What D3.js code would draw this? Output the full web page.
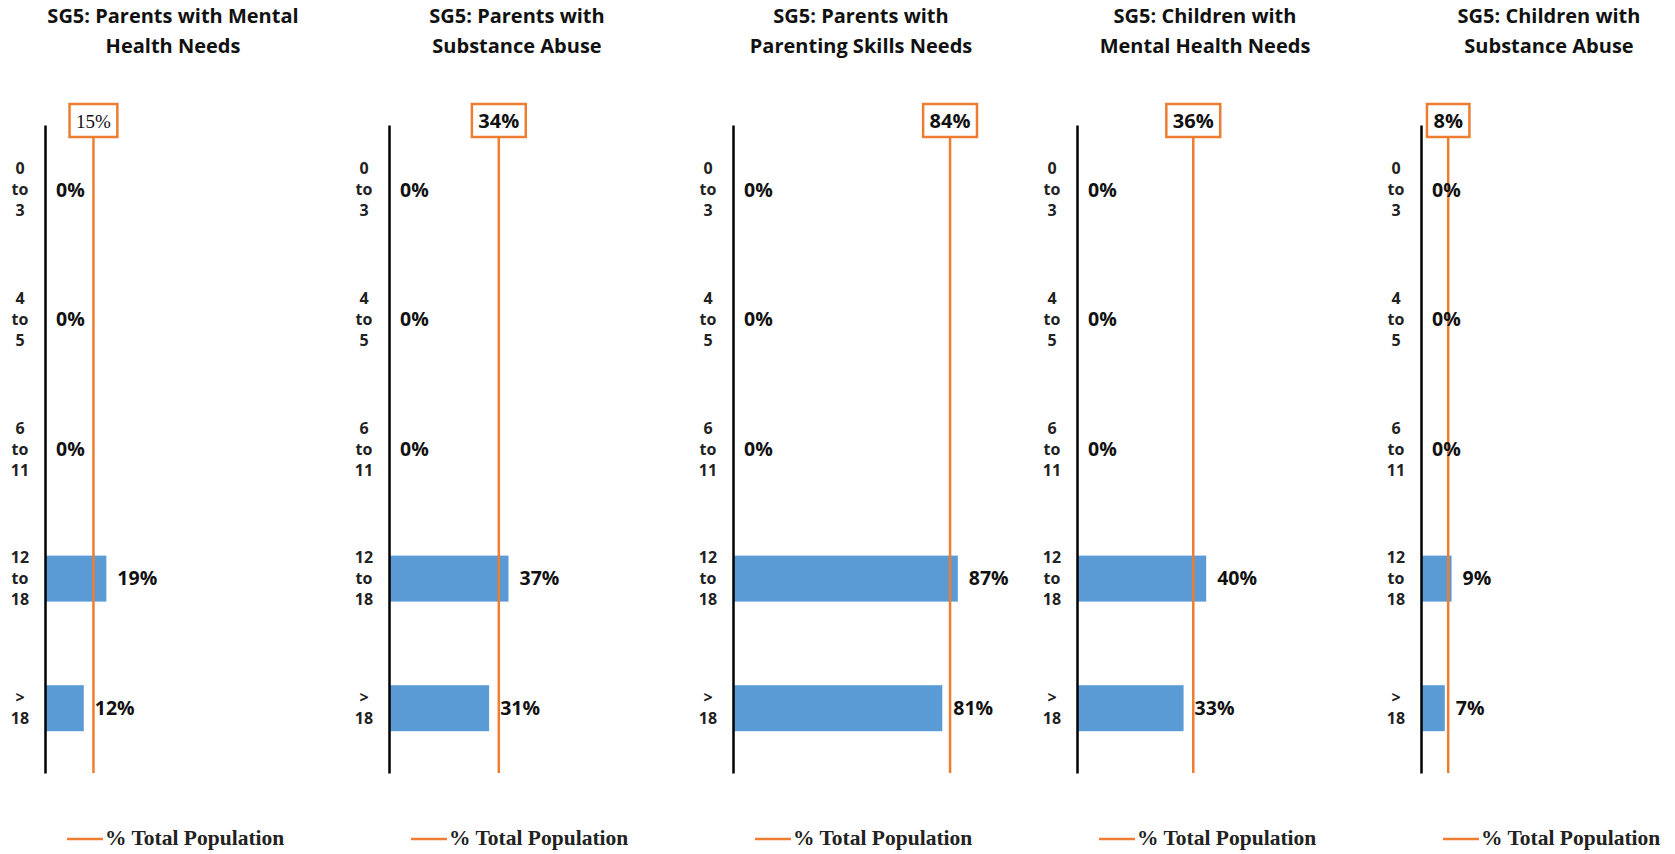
<!DOCTYPE html>
<html>
<head>
<meta charset="utf-8">
<script src="https://cdn.jsdelivr.net/npm/d3@7"></script>
<style>
  body { margin: 0; background: #fff; }
  svg { display: block; }
</style>
</head>
<body>
<div id="chart"></div>
<script>
// chart data
let titles = [
    ["SG5: Parents with Mental", "Health Needs"],
    ["SG5: Parents with", "Substance Abuse"],
    ["SG5: Parents with", "Parenting Skills Needs"],
    ["SG5: Children with", "Mental Health Needs"],
    ["SG5: Children with", "Substance Abuse"]
];
let ageGroups = ["0 to 3", "4 to 5", "6 to 11", "12 to 18", "> 18"];

let parentsMental   = [0, 0, 0, 0.19, 0.12];
let parentsSubst    = [0, 0, 0, 0.37, 0.31];
let parentsSkills   = [0, 0, 0, 0.87, 0.81];
let childrenMental  = [0, 0, 0, 0.40, 0.33];
let childrenSubst   = [0, 0, 0, 0.09, 0.07];

// % total population reference line for each panel
let totalPopulation = [0.15, 0.34, 0.84, 0.36, 0.08];

// horizontal axis maximum of each small chart
let axisMax = [1, 1, 1.25, 1, 0.95];

let legendLabel = "% Total Population";

let series = [parentsMental, parentsSubst, parentsSkills, childrenMental, childrenSubst];

const width = 1675, height = 854;
const blue = "#5b9bd5", orange = "#ed7d31";
const sans = "'Open Sans', 'Noto Sans', sans-serif";
const serif = "'Liberation Serif', 'DejaVu Serif', serif";

const svg = d3.select("#chart").append("svg")
    .attr("width", width)
    .attr("height", height);

// where each panel's axis sits
const panelX = d3.scaleLinear().domain([0, series.length - 1]).range([45, 1421]);

const y = d3.scaleBand()
    .domain(ageGroups)
    .range([125, 773])
    .paddingInner(0.645)
    .paddingOuter(0.3225);

const plotWidth = 323;

series.forEach(function (values, i) {

    let x0 = panelX(i);
    let g = svg.append("g").attr("transform", `translate(${x0},0)`);

    let x = d3.scaleLinear().domain([0, axisMax[i]]).range([0, plotWidth]);

    // title
    g.append("text")
        .attr("x", 128)
        .attr("text-anchor", "middle")
        .attr("font-family", sans)
        .attr("font-weight", "bold")
        .attr("font-size", "20px")
        .attr("fill", "#111")
        .selectAll("tspan")
        .data(titles[i])
        .join("tspan")
        .attr("x", 128)
        .attr("y", (d, k) => 23 + k * 30)
        .text(d => d);

    // bars
    g.selectAll("rect.bar")
        .data(values)
        .join("rect")
        .attr("class", "bar")
        .attr("x", 0)
        .attr("y", (d, k) => y(ageGroups[k]))
        .attr("width", d => x(d))
        .attr("height", y.bandwidth())
        .attr("fill", blue);

    // axis line (no ticks)
    let axis = g.append("g")
        .call(d3.axisLeft(y).tickSize(0).tickFormat(""));
    axis.select(".domain").attr("stroke", "#000").attr("stroke-width", 2.5);

    // category labels, one word per line
    g.selectAll("text.cat")
        .data(ageGroups)
        .join("text")
        .attr("class", "cat")
        .attr("text-anchor", "middle")
        .attr("font-family", sans)
        .attr("font-weight", "bold")
        .attr("font-size", "16px")
        .attr("fill", "#222")
        .each(function (d) {
            let words = d.split(" ");
            let cy = y(d) + y.bandwidth() / 2;
            let top = cy - (words.length - 1) * 21 / 2;
            d3.select(this).selectAll("tspan")
                .data(words)
                .join("tspan")
                .attr("x", -25)
                .attr("y", (w, k) => top + k * 21)
                .attr("dy", "0.35em")
                .text(w => w);
        });

    // % total population line + boxed label
    let tx = x(totalPopulation[i]);
    g.append("line")
        .attr("x1", tx).attr("x2", tx)
        .attr("y1", 137).attr("y2", 773)
        .attr("stroke", orange)
        .attr("stroke-width", 2.5);

    let box = g.append("rect")
        .attr("y", 104)
        .attr("height", 33)
        .attr("fill", "#fff")
        .attr("stroke", orange)
        .attr("stroke-width", 2.5);

    let boxLabel = g.append("text")
        .attr("x", tx)
        .attr("y", 128)
        .attr("text-anchor", "middle")
        .attr("font-family", i === 0 ? serif : sans)
        .attr("font-weight", i === 0 ? "normal" : "bold")
        .attr("font-size", i === 0 ? "19px" : "20px")
        .attr("fill", "#111")
        .text(d3.format(".0%")(totalPopulation[i]));

    let bw = boxLabel.node().getComputedTextLength() + 13;
    box.attr("x", tx - bw / 2).attr("width", bw);

    // value labels
    g.selectAll("text.val")
        .data(values)
        .join("text")
        .attr("class", "val")
        .attr("x", d => x(d) + 11)
        .attr("y", (d, k) => y(ageGroups[k]) + y.bandwidth() / 2)
        .attr("dy", "0.35em")
        .attr("font-family", sans)
        .attr("font-weight", "bold")
        .attr("font-size", "19.5px")
        .attr("fill", "#111")
        .text(d => d3.format(".0%")(d));

    // legend
    g.append("line")
        .attr("x1", 22).attr("x2", 58)
        .attr("y1", 839).attr("y2", 839)
        .attr("stroke", orange)
        .attr("stroke-width", 2.5);
    g.append("text")
        .attr("x", 60)
        .attr("y", 845)
        .attr("font-family", serif)
        .attr("font-weight", "bold")
        .attr("font-size", "21.5px")
        .attr("fill", "#222")
        .text(legendLabel);
});
</script>
</body>
</html>
